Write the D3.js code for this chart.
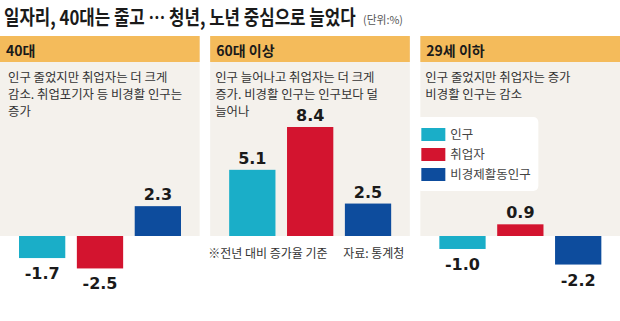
<!DOCTYPE html>
<html><head><meta charset="utf-8">
<script src="https://cdn.jsdelivr.net/npm/d3@7"></script>
<style>body{margin:0;background:#fff}svg{display:block}</style>
</head><body>
<svg id="c" width="620" height="321"></svg>
<script>
const groups = ["40대", "60대 이상", "29세 이하"];
const series = ["인구", "취업자", "비경제활동인구"];
const values = [
  [-1.7, -2.5, 2.3],
  [5.1, 8.4, 2.5],
  [-1.0, 0.9, -2.2]
];
const descriptions = [
  ["인구 줄었지만 취업자는 더 크게", "감소. 취업포기자 등 비경활 인구는", "증가"],
  ["인구 늘어나고 취업자는 더 크게", "증가. 비경활 인구는 인구보다 덜", "늘어나"],
  ["인구 줄었지만 취업자는 증가", "비경활 인구는 감소"]
];
const colors = ["#1aaec8", "#d3142f", "#0d4c9d"];
const title = "일자리, 40대는 줄고 … 청년, 노년 중심으로 늘었다";
const unit = "(단위:%)";
const footnote = "※전년 대비 증가율 기준";
const source = "자료: 통계청";

const svg = d3.select("#c");
const KR = "'Noto Sans CJK KR', 'Noto Sans', sans-serif";
const NUM = "'DejaVu Sans', sans-serif";

const tg = svg.append("g").attr("transform", "translate(4,25)");
const tt = tg.append("text").attr("x", 0).attr("y", 0)
  .attr("font-family", KR).attr("font-weight", 700).attr("font-size", 20)
  .attr("fill", "#1a1a1a").text(title);
const natural = tt.node().getComputedTextLength();
tg.attr("transform", `translate(4,25) scale(${352 / natural},1)`);

const ug = svg.append("g").attr("transform", "translate(363,24)");
const ut = ug.append("text").attr("font-family", KR).attr("font-size", 11).attr("fill", "#555").text(unit);
const un = ut.node().getComputedTextLength();
ug.attr("transform", `translate(363,24) scale(${40 / un},1)`);

const panelX = d3.scaleBand().domain(groups).range([0, 620]).paddingInner(0.05);
const bx = d3.scaleBand().domain(series).range([19, 181]).paddingInner(0.2);
const y = d3.scaleLinear().domain([0, 8.4]).range([236, 127]);

groups.forEach((g, gi) => {
  const p = svg.append("g").attr("transform", `translate(${panelX(g)},0)`);
  const w = panelX.bandwidth();
  p.append("rect").attr("x", 0).attr("y", 36).attr("width", w).attr("height", y(0) - 36).attr("fill", "#f4f1ec");
  p.append("rect").attr("x", 0).attr("y", 36).attr("width", w).attr("height", 26).attr("fill", "#f4bb5b");
  p.append("text").attr("x", 6).attr("y", 55.5)
    .attr("font-family", KR).attr("font-weight", 700).attr("font-size", 14).attr("fill", "#1a1a1a")
    .text(g);
  descriptions[gi].forEach((line, li) => {
    p.append("text").attr("x", gi === 0 ? 8 : 5).attr("y", 82 + li * 17)
      .attr("font-family", KR).attr("font-size", 12.4).attr("fill", "#333")
      .text(line);
  });
  series.forEach((s, si) => {
    const v = values[gi][si];
    p.append("rect").attr("x", bx(s)).attr("width", bx.bandwidth())
      .attr("y", y(Math.max(0, v))).attr("height", Math.abs(y(v) - y(0)))
      .attr("fill", colors[si]);
    p.append("text").attr("x", bx(s) + bx.bandwidth() / 2)
      .attr("y", v >= 0 ? y(v) - 6 : y(v) + 21)
      .attr("text-anchor", "middle")
      .attr("font-family", NUM).attr("font-weight", 700).attr("font-size", 16).attr("fill", "#1a1a1a")
      .text(v.toFixed(1));
  });
});

// footnote in panel 2
const p2 = panelX(groups[1]);
svg.append("text").attr("x", p2 - 2).attr("y", 258)
  .attr("font-family", KR).attr("font-size", 12).attr("fill", "#333").text(footnote);
svg.append("text").attr("x", p2 + 133).attr("y", 258)
  .attr("font-family", KR).attr("font-size", 12).attr("fill", "#333").text(source);

// legend in panel 3
const p3 = panelX(groups[2]);
const lg = svg.append("g");
lg.append("rect").attr("x", p3 - 4).attr("y", 117).attr("width", 122).attr("height", 74)
  .attr("rx", 5).attr("fill", "#fff");
series.forEach((s, si) => {
  lg.append("rect").attr("x", p3 + 1).attr("y", 128 + si * 20).attr("width", 24).attr("height", 13)
    .attr("fill", colors[si]);
  lg.append("text").attr("x", p3 + 30).attr("y", 139 + si * 20)
    .attr("font-family", KR).attr("font-size", 12.5).attr("fill", "#444").text(s);
});
</script>
</body></html>
